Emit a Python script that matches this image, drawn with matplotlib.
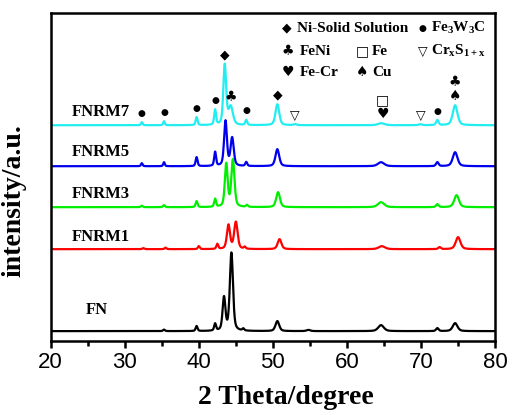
import numpy as np
import matplotlib
matplotlib.use("Agg")
import matplotlib.pyplot as plt

plt.rcParams["mathtext.fontset"] = "custom"
plt.rcParams["mathtext.rm"] = "Liberation Serif:bold"
plt.rcParams["mathtext.it"] = "Liberation Serif:bold"
plt.rcParams["mathtext.bf"] = "Liberation Serif:bold"

SERIF = "Liberation Serif"
SYMBOL_FONT = "DejaVu Sans"

# sample names, bottom to top, with vertical offsets of each pattern
samples = ["FN", "FNRM1", "FNRM3", "FNRM5", "FNRM7"]
offsets = [10, 92, 134, 175, 216]
colors = ["#000000", "#ff0000", "#00ee00", "#0000ee", "#22eef2"]

# peak tables: 2theta position, height above background, FWHM (deg)
fn_pos = [35.3, 39.7, 42.2, 43.4, 44.4, 46.0, 50.6, 54.8, 64.6, 72.2, 74.6]
fn_height = [1.5, 5, 7, 33, 78, 2, 10, 1.2, 6, 3, 8]
fn_width = [0.3, 0.3, 0.3, 0.45, 0.5, 0.3, 0.6, 0.6, 0.9, 0.4, 0.75]

fnrm1_pos = [32.5, 35.5, 40.0, 42.5, 44.0, 45.0, 46.2, 50.9, 64.7, 72.5, 75.0]
fnrm1_height = [1, 1.5, 3, 5, 24, 27, 2, 10, 3, 2, 12]
fnrm1_width = [0.3, 0.3, 0.3, 0.3, 0.5, 0.55, 0.3, 0.6, 1.0, 0.4, 0.75]

fnrm3_pos = [32.3, 35.3, 39.7, 42.2, 43.7, 44.6, 46.5, 50.7, 64.6, 72.2, 74.8]
fnrm3_height = [1.5, 2, 6, 8, 43, 47, 2, 15, 5, 3, 12]
fnrm3_width = [0.3, 0.3, 0.3, 0.3, 0.45, 0.5, 0.3, 0.6, 1.0, 0.4, 0.75]

fnrm5_pos = [32.3, 35.3, 39.7, 42.2, 43.6, 44.5, 46.4, 50.6, 64.6, 72.2, 74.6]
fnrm5_height = [3, 4, 9, 14, 45, 28, 4, 17, 4, 4, 14]
fnrm5_width = [0.25, 0.25, 0.3, 0.3, 0.45, 0.5, 0.3, 0.6, 1.0, 0.4, 0.75]

fnrm7_pos = [32.3, 35.3, 39.7, 42.2, 43.5, 44.3, 46.4, 50.6, 53.0, 64.6, 69.9, 72.2, 74.6]
fnrm7_height = [3, 4, 8, 15, 60, 18, 5, 21, 1, 2, 1, 5, 20]
fnrm7_width = [0.25, 0.25, 0.3, 0.3, 0.45, 0.7, 0.3, 0.6, 0.5, 1.0, 0.5, 0.4, 0.75]

peak_tables = [
    (fn_pos, fn_height, fn_width),
    (fnrm1_pos, fnrm1_height, fnrm1_width),
    (fnrm3_pos, fnrm3_height, fnrm3_width),
    (fnrm5_pos, fnrm5_height, fnrm5_width),
    (fnrm7_pos, fnrm7_height, fnrm7_width),
]

# phase marks on the FNRM7 pattern: symbol, 2theta, stack level
phase_marks = [
    ("●", 32.3, 0), ("●", 35.3, 0), ("●", 39.7, 0), ("●", 42.2, 0),
    ("◆", 43.5, 0), ("♣", 44.35, 0), ("●", 46.4, 0), ("◆", 50.6, 0),
    ("▽", 53.0, 0), ("♥", 64.8, 0), ("□", 64.8, 1), ("▽", 69.9, 0),
    ("●", 72.2, 0), ("♠", 74.6, 0), ("♣", 74.6, 1),
]

# phase key: symbol, label, symbol x, text x, row
phase_key = [
    ("◆", "Ni-Solid Solution", 51.85, 53.2, 0),
    ("●", r"Fe$_3$W$_3$C", 70.2, 71.3, 0),
    ("♣", "FeNi", 52.0, 53.6, 1),
    ("□", "Fe", 62.1, 63.4, 1),
    ("▽", r"Cr$_x$S$_{1+x}$", 70.2, 71.3, 1),
    ("♥", "Fe-Cr", 52.0, 53.6, 2),
    ("♠", "Cu", 62.1, 63.4, 2),
]
key_rows_y = [313, 290, 269]

symbol_sizes = {"●": 6.5, "◆": 9, "♣": 10, "♥": 10, "♠": 10, "□": 10, "▽": 9}


def pattern(two_theta, positions, heights, widths, eta=0.45):
    y = np.zeros_like(two_theta)
    for x0, h, w in zip(positions, heights, widths):
        g = np.exp(-4 * np.log(2) * ((two_theta - x0) / w) ** 2)
        lor = 1.0 / (1.0 + 4 * ((two_theta - x0) / w) ** 2)
        y += h * ((1 - eta) * g + eta * lor)
    return y


def main() -> None:
    two_theta = np.arange(20.0, 80.0001, 0.02)

    fig = plt.figure(figsize=(5.12, 4.15), dpi=100)
    ax = fig.add_axes([0.099, 0.178, 0.868, 0.790])

    traces = []
    for name, off, color, (pos, hgt, wid) in zip(samples, offsets, colors, peak_tables):
        y = off + pattern(two_theta, pos, hgt, wid)
        traces.append(y)
        ax.plot(two_theta, y, color=color, linewidth=1.6)

    label_pos = [(26.2, 31, "center"), (22.8, 104, "left"), (22.8, 147, "left"),
                 (22.8, 189, "left"), (22.8, 229, "left")]
    for name, (lx, ly, ha) in zip(samples, label_pos):
        ax.text(lx, ly, name, fontsize=12, fontweight="bold", family=SERIF,
                ha=ha, va="center")

    top = traces[-1]
    for sym, x0, level in phase_marks:
        yv = np.interp(x0, two_theta, top) + 9 + level * 14
        ax.text(x0, yv, sym, fontsize=symbol_sizes[sym], family=SYMBOL_FONT,
                ha="center", va="center")

    for sym, text, sx, tx, row in phase_key:
        ky = key_rows_y[row]
        ax.text(sx, ky, sym, fontsize=symbol_sizes[sym], family=SYMBOL_FONT,
                ha="center", va="center")
        ax.text(tx, ky, text, fontsize=11, fontweight="bold", family=SERIF,
                ha="left", va="center")

    ax.set_xlim(20, 80)
    ax.set_ylim(0, 328)
    ax.set_xticks(np.arange(20, 81, 10))
    ax.set_xticks(np.arange(25, 80, 10), minor=True)
    ax.set_yticks([])
    ax.tick_params(axis="x", which="major", direction="out", length=5, width=1.8,
                   labelsize=16, pad=3)
    ax.tick_params(axis="x", which="minor", direction="out", length=3.5, width=1.8)
    for label in ax.get_xticklabels():
        label.set_family("Liberation Sans")
    for spine in ax.spines.values():
        spine.set_linewidth(1.8)

    ax.set_xlabel("2 Theta/degree", fontsize=20, fontweight="bold", family=SERIF,
                  labelpad=2)
    ax.xaxis.set_label_coords(0.53, -0.135)
    ax.set_ylabel("intensity/a.u.", fontsize=20, fontweight="bold", family=SERIF)
    ax.yaxis.set_label_coords(-0.055, 0.43)

    fig.savefig("out.png", dpi=100)
    plt.close(fig)


if __name__ == "__main__":
    main()
